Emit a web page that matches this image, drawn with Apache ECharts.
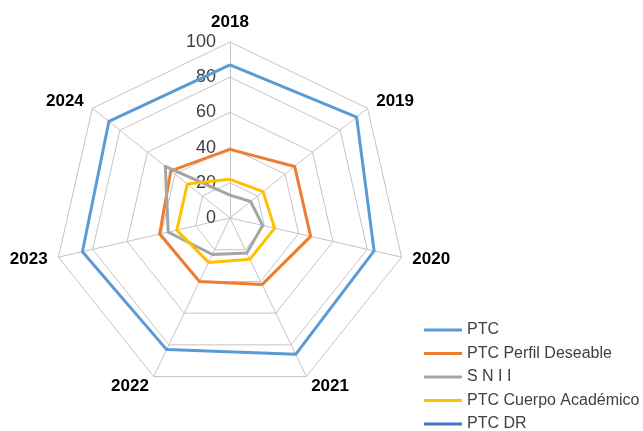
<!DOCTYPE html>
<html>
<head>
<meta charset="utf-8">
<script src="https://cdn.jsdelivr.net/npm/echarts@6/dist/echarts.min.js"></script>
<style>
  html, body { margin: 0; padding: 0; background: #fff; }
  #chart { width: 643px; height: 431px; }
</style>
</head>
<body>
<div id="chart"></div>
<script>
// datos (orden de las horas del reloj)
var years = ['2018', '2019', '2020', '2021', '2022', '2023', '2024']
var ptc = [87, 92, 84, 86, 83, 86, 88]
var perfilDeseable = [39, 47, 47, 42, 40, 41, 43]
var snii = [13, 15, 19, 22, 23, 36, 47]
var cuerpoAcademico = [22, 24, 26, 26, 28, 31, 31]
var ptcDr = [0, 0, 0, 0, 0, 0, 0]
var ticks = [0, 20, 40, 60, 80, 100]

// echarts dibuja los ejes en sentido antihorario, se reordena
var order = [0, 6, 5, 4, 3, 2, 1]
function reorder (arr) {
  return order.map(function (i) { return arr[i] })
}

var font = 'Liberation Sans'

var indicators = reorder(years).map(function (y, i) {
  var ind = { name: y, min: ticks[0], max: ticks[ticks.length - 1] }
  if (i === 0) {
    ind.axisLabel = {
      show: true,
      fontFamily: font,
      fontSize: 18,
      color: '#404040',
      margin: 14
    }
  }
  return ind
})

var seriesDefs = [
  { name: 'PTC', data: ptc, color: '#5B9BD5' },
  { name: 'PTC Perfil Deseable', data: perfilDeseable, color: '#ED7D31' },
  { name: 'S N I I', data: snii, color: '#A5A5A5' },
  { name: 'PTC Cuerpo Académico', data: cuerpoAcademico, color: '#FFC000' },
  { name: 'PTC DR', data: ptcDr, color: '#4472C4' }
]

var chart = echarts.init(document.getElementById('chart'))

var option = {
  animation: false,
  legend: {
    orient: 'vertical',
    left: 424,
    top: 322,
    height: 140,
    padding: 0,
    icon: 'rect',
    itemWidth: 38,
    itemHeight: 3,
    itemGap: 7.5,
    textStyle: { fontFamily: font, fontSize: 16, lineHeight: 15, color: '#404040' },
    data: seriesDefs.map(function (s) { return s.name })
  },
  radar: {
    center: [230, 218],
    radius: 176,
    startAngle: 90,
    shape: 'polygon',
    splitNumber: 5,
    nameGap: 11,
    axisName: {
      color: '#000',
      fontFamily: font,
      fontSize: 17,
      fontWeight: 'bold'
    },
    axisLine: { lineStyle: { color: '#C4C4C4', width: 1 } },
    splitLine: { lineStyle: { color: '#C4C4C4', width: 1 } },
    splitArea: { show: false },
    axisLabel: { show: false },
    indicator: indicators
  },
  series: seriesDefs.map(function (s) {
    return {
      type: 'radar',
      name: s.name,
      symbol: 'none',
      color: s.color,
      lineStyle: { color: s.color, width: 3 },
      data: [{ name: s.name, value: reorder(s.data) }]
    }
  })
}

chart.setOption(option)
</script>
</body>
</html>
